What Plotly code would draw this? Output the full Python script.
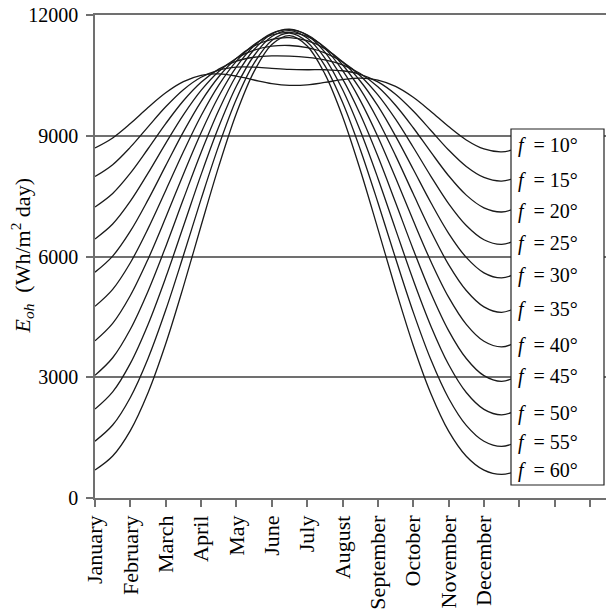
import plotly.graph_objects as go

# Month tick labels on the month axis
months = ["January", "February", "March", "April", "May", "June", "July",
          "August", "September", "October", "November", "December"]
month_ticks = [0, 1, 2, 3, 4, 5, 6, 7, 8, 9, 10, 11]
extra_ticks = [12, 13, 14]  # unlabeled ticks beyond December

# Sample positions along the month axis (half-month steps)
x_pos = [0, 0.5, 1, 1.5, 2, 2.5, 3, 3.5, 4, 4.5, 5, 5.5, 6, 6.5, 7, 7.5,
         8, 8.5, 9, 9.5, 10, 10.5, 11, 11.5, 12]

# Daily extraterrestrial irradiation on a horizontal surface, Wh/m2 day
E_10 = [8697, 8946, 9302, 9700, 10066, 10343, 10499, 10535, 10481, 10385, 10297, 10252, 10265,
        10324, 10394, 10430, 10383, 10226, 9956, 9605, 9228, 8896, 8672, 8600, 8697]
E_15 = [7987, 8282, 8716, 9222, 9720, 10145, 10453, 10633, 10704, 10703, 10674, 10649, 10640,
        10640, 10615, 10527, 10338, 10030, 9613, 9132, 8646, 8236, 7964, 7875, 7987]
E_20 = [7231, 7567, 8071, 8677, 9301, 9869, 10329, 10654, 10853, 10950, 10983, 10979, 10949,
        10886, 10762, 10547, 10215, 9757, 9199, 8592, 8007, 7525, 7210, 7106, 7231]
E_25 = [6436, 6807, 7374, 8071, 8812, 9519, 10127, 10598, 10927, 11126, 11224, 11242, 11189,
        11061, 10836, 10492, 10015, 9411, 8715, 7992, 7315, 6770, 6417, 6301, 6436]
E_30 = [5610, 6010, 6629, 7407, 8257, 9096, 9849, 10465, 10927, 11231, 11397, 11438, 11362,
        11166, 10836, 10361, 9740, 8992, 8167, 7335, 6576, 5977, 5594, 5467, 5610]
E_35 = [4763, 5184, 5845, 6693, 7641, 8603, 9497, 10259, 10855, 11267, 11503, 11569, 11467,
        11201, 10764, 10156, 9392, 8506, 7557, 6627, 5799, 5155, 4749, 4614, 4763]
E_40 = [3904, 4338, 5030, 5934, 6968, 8045, 9075, 9980, 10712, 11235, 11545, 11636, 11509,
        11170, 10622, 9880, 8975, 7954, 6892, 5876, 4990, 4314, 3893, 3753, 3904]
E_45 = [3048, 3484, 4192, 5138, 6244, 7426, 8586, 9633, 10503, 11142, 11529, 11647, 11493,
        11077, 10415, 9536, 8491, 7342, 6176, 5087, 4159, 3465, 3039, 2898, 3048]
E_50 = [2209, 2636, 3344, 4312, 5476, 6751, 8034, 9222, 10234, 10994, 11464, 11612, 11428,
        10930, 10148, 9129, 7945, 6674, 5416, 4270, 3317, 2621, 2203, 2065, 2209]
E_55 = [1413, 1813, 2498, 3467, 4669, 6024, 7424, 8754, 9914, 10806, 11367, 11548, 11331,
        10742, 9831, 8666, 7342, 5956, 4618, 3433, 2478, 1803, 1409, 1281, 1413]
E_60 = [695, 1043, 1675, 2615, 3831, 5251, 6763, 8238, 9558, 10598, 11267, 11488, 11232,
        10537, 9479, 8156, 6688, 5192, 3789, 2590, 1661, 1038, 693, 586, 695]

latitudes = [10, 15, 20, 25, 30, 35, 40, 45, 50, 55, 60]
series = [E_10, E_15, E_20, E_25, E_30, E_35, E_40, E_45, E_50, E_55, E_60]

y_ticks = [0, 3000, 6000, 9000, 12000]
y_ticktext = ["0", "3000", "6000", "9000", "12000"]

# Vertical pixel centres of the legend labels (layout only)
label_px = [145, 180, 211, 243, 275, 309, 345, 377, 413, 442, 470]

W, H = 606, 613
ML, MR, MT, MB = 95, 0, 15, 115
plot_w = W - ML - MR
plot_h = H - MT - MB

FONT = "Liberation Serif"
GRAY = "#707070"

fig = go.Figure()
for lat, vals in zip(latitudes, series):
    fig.add_trace(go.Scatter(
        x=x_pos, y=vals, mode="lines",
        line=dict(color="#1a1a1a", width=1.3, shape="spline", smoothing=1.0),
        name=f"f = {lat}°", showlegend=False, hoverinfo="skip"))

# White legend box drawn above the curves
fig.add_shape(type="rect", xref="paper", yref="paper",
              x0=(511 - ML) / plot_w, x1=(604 - ML) / plot_w,
              y0=(H - MB - 485) / plot_h, y1=(H - MB - 129) / plot_h,
              fillcolor="white", line=dict(color="#222222", width=1.2), layer="above")

for lat, py in zip(latitudes, label_px):
    fig.add_annotation(text=f"<i>f</i>&nbsp; = {lat}°", xref="paper", yref="paper",
                       x=(516 - ML) / plot_w, y=(H - MB - py) / plot_h,
                       xanchor="left", yanchor="middle", showarrow=False,
                       font=dict(family=FONT, size=20, color="black"))

fig.add_annotation(text="<i>E</i><sub><i>oh</i></sub>&nbsp; (Wh/m<sup>2</sup> day)",
                   xref="paper", yref="paper", x=(22 - ML) / plot_w, y=0.5,
                   xanchor="center", yanchor="middle", textangle=-90, showarrow=False,
                   font=dict(family=FONT, size=22, color="black"))

fig.update_layout(
    width=W, height=H,
    margin=dict(l=ML, r=MR, t=MT, b=MB, pad=0),
    paper_bgcolor="white", plot_bgcolor="white",
    font=dict(family=FONT, size=20, color="black"),
    xaxis=dict(range=[0, (W - ML) / 35.36], tickmode="array", tickvals=month_ticks,
               ticktext=months, tickangle=-90, ticks="outside", ticklen=7,
               tickcolor=GRAY, tickwidth=1.5, showline=True, linecolor=GRAY,
               linewidth=1.5, mirror=True, showgrid=False, zeroline=False,
               tickfont=dict(family=FONT, size=22, color="black"),
               minor=dict(tickmode="array", tickvals=extra_ticks, ticks="outside",
                          ticklen=7, tickcolor=GRAY, tickwidth=1.5, showgrid=False)),
    yaxis=dict(range=[0, 12000], tickmode="array", tickvals=y_ticks,
               ticktext=y_ticktext, ticks="outside", ticklen=7, tickcolor=GRAY,
               tickwidth=1.5, showline=True, linecolor=GRAY, linewidth=1.5,
               showgrid=True, gridcolor=GRAY, gridwidth=1.5, zeroline=False,
               ticklabelstandoff=4,
               tickfont=dict(family=FONT, size=20, color="black")),
)

fig.write_html("out.html")
